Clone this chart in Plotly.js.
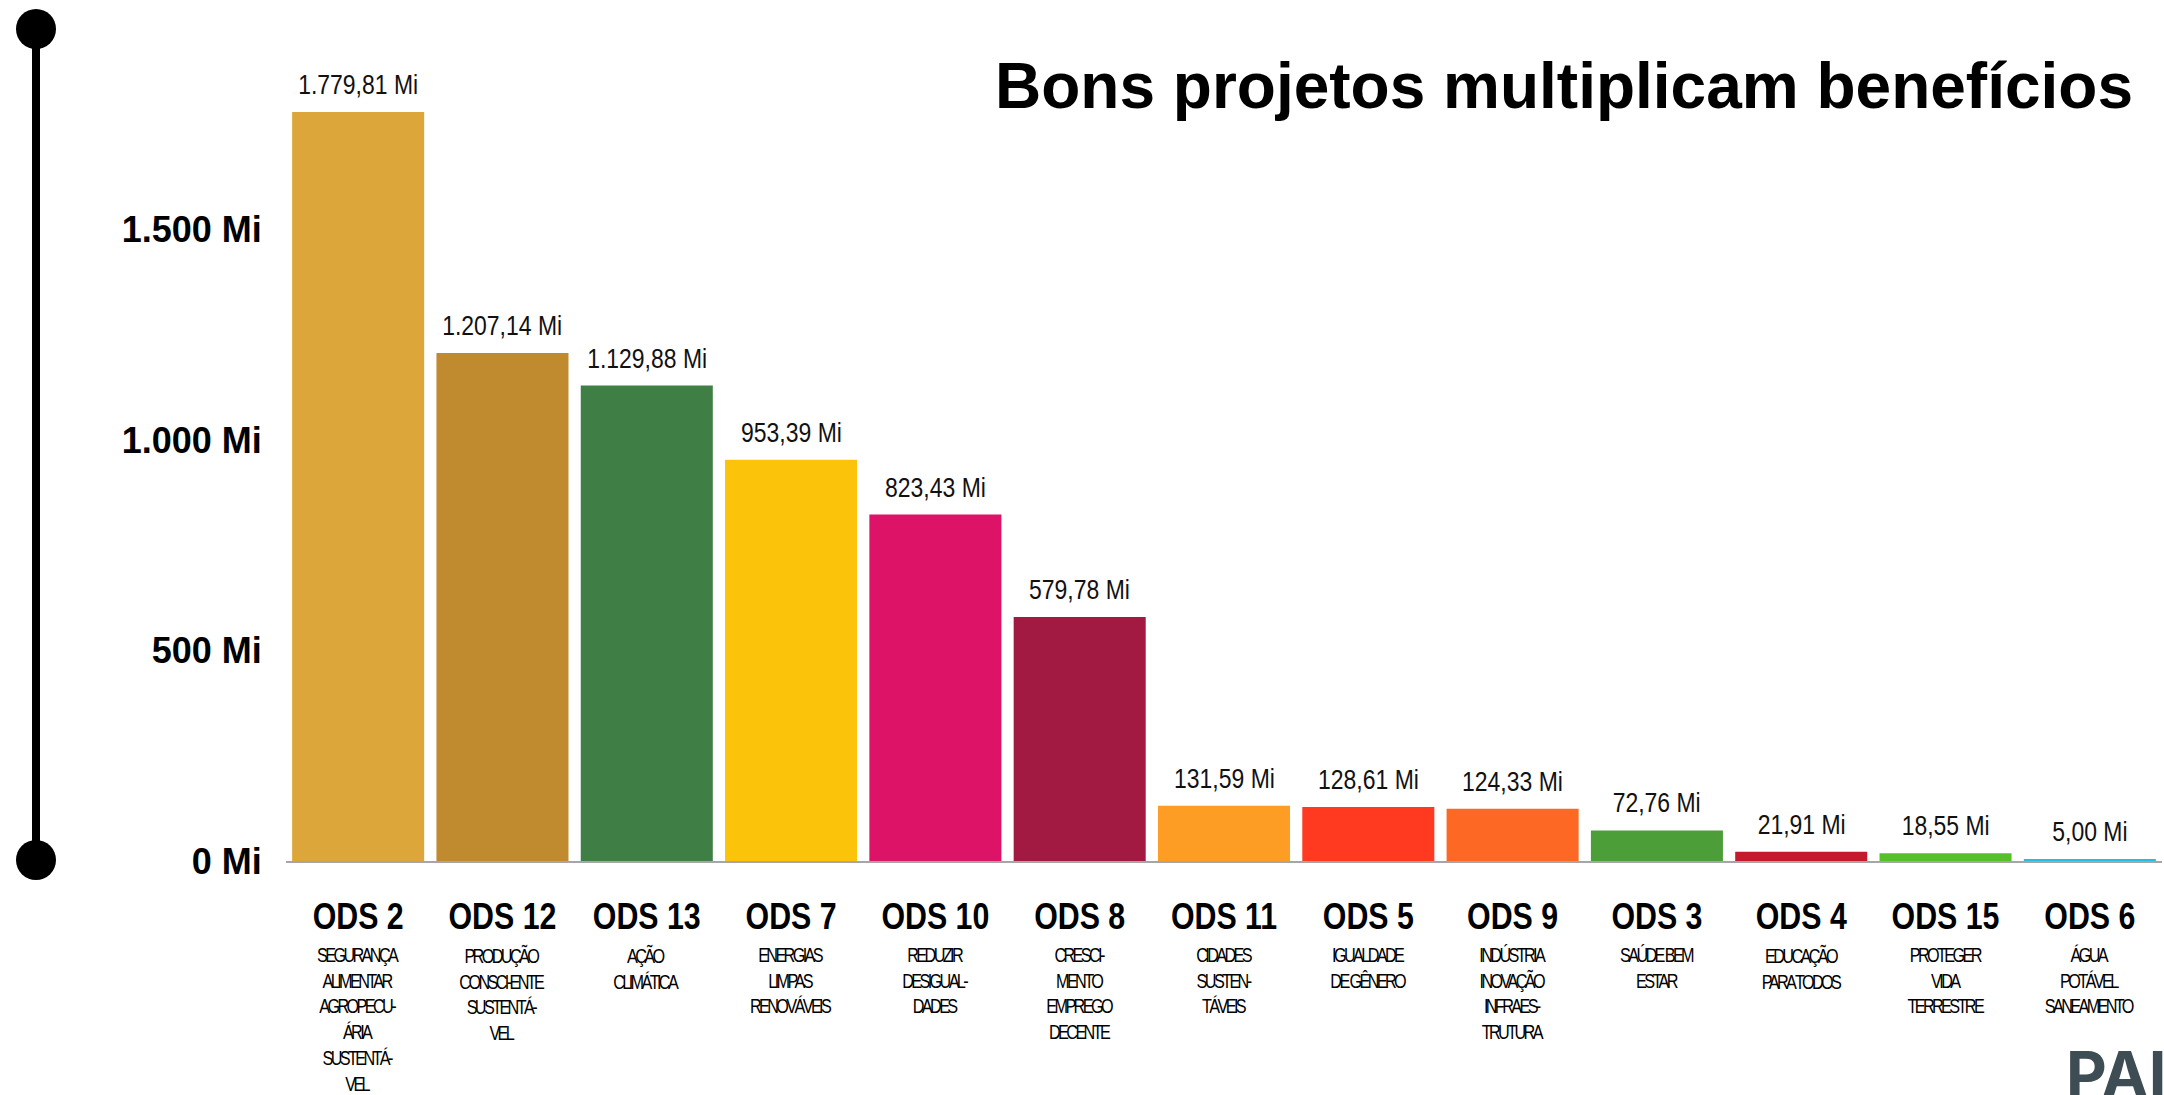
<!DOCTYPE html>
<html>
<head>
<meta charset="utf-8">
<script src="https://cdn.plot.ly/plotly-3.0.1.min.js"></script>
<style>
  html, body { margin: 0; padding: 0; background: #ffffff; }
  #chart { width: 2164px; height: 1095px; }
</style>
</head>
<body>
<div id="chart"></div>
<script>
// ---------- DATA ----------
const categories = ['ODS 2', 'ODS 12', 'ODS 13', 'ODS 7', 'ODS 10', 'ODS 8', 'ODS 11',
                    'ODS 5', 'ODS 9', 'ODS 3', 'ODS 4', 'ODS 15', 'ODS 6'];
const values = [1779.81, 1207.14, 1129.88, 953.39, 823.43, 579.78, 131.59,
                128.61, 124.33, 72.76, 21.91, 18.55, 5.00];
const descriptions = [
  ['SEGURANÇA', 'ALIMENTAR', 'AGROPECU-', 'ÁRIA', 'SUSTENTÁ-', 'VEL'],
  ['PRODUÇÃO', 'CONSCI-ENTE', 'SUSTENTÁ-', 'VEL'],
  ['AÇÃO', 'CLIMÁTICA'],
  ['ENERGIAS', 'LIMPAS', 'RENOVÁVEIS'],
  ['REDUZIR', 'DESIGUAL-', 'DADES'],
  ['CRESCI-', 'MENTO', 'EMPREGO', 'DECENTE'],
  ['CIDADES', 'SUSTEN-', 'TÁVEIS'],
  ['IGUALDADE', 'DE GÊNERO'],
  ['INDÚSTRIA', 'INOVAÇÃO', 'INFRAES-', 'TRUTURA'],
  ['SAÚDE BEM', 'ESTAR'],
  ['EDUCAÇÃO', 'PARA TODOS'],
  ['PROTEGER', 'VIDA', 'TERRESTRE'],
  ['ÁGUA', 'POTÁVEL', 'SANEAMENTO']
];
const colors = ['#DDA63A', '#BF8B2E', '#3F7E44', '#FCC30B', '#DD1367', '#A21942', '#FD9D24',
                '#FF3A21', '#FD6925', '#4C9F38', '#C5192D', '#56C02B', '#26BDE2'];
const yTickVals = [0, 500, 1000, 1500];
const yTickText = ['0 Mi', '500 Mi', '1.000 Mi', '1.500 Mi'];
const titleText = 'Bons projetos multiplicam benefícios';
const logoText = 'PAI';

// ---------- HELPERS ----------
function fmtBR(v) {
  const parts = v.toFixed(2).split('.');
  const intPart = parts[0].replace(/\B(?=(\d{3})+(?!\d))/g, '.');
  return intPart + ',' + parts[1] + ' Mi';
}
const SANS = '"Liberation Sans", Arial, sans-serif';
const NARROW_SCALE = 0.82;   // emulate a narrow face by horizontal compression

// ---------- GEOMETRY ----------
const W = 2164, H = 1095;
const M = { l: 286, r: 2, t: 0, b: 234 };
const plotW = W - M.l - M.r, plotH = H - M.t - M.b;
const pxX = px => (px - M.l) / plotW;
const pxY = py => (H - M.b - py) / plotH;
const yMax = plotH / 0.4208;

// ---------- TRACE ----------
const trace = {
  type: 'bar',
  x: categories,
  y: values,
  marker: { color: colors, line: { width: 0 } },
  hoverinfo: 'x+y'
};

// ---------- ANNOTATIONS ----------
const annotations = [];
// value labels above bars
categories.forEach((c, i) => annotations.push({
  x: c, xref: 'x', y: values[i], yref: 'y',
  xanchor: 'center', yanchor: 'bottom', yshift: 10,
  showarrow: false, text: fmtBR(values[i]),
  font: { family: SANS, size: 28, color: '#111111' }
}));
// descriptions under category names
categories.forEach((c, i) => annotations.push({
  x: c, xref: 'x', y: 0, yref: 'paper',
  xanchor: 'center', yanchor: 'top', yshift: -81,
  showarrow: false, align: 'center',
  text: '<span style="letter-spacing:-3.2px">' + descriptions[i].join('<br>') + '</span>',
  font: { family: SANS, size: 19.8, color: '#000000' }
}));
// partial logo bottom-right
annotations.push({
  x: pxX(2064), xref: 'paper', y: pxY(1034), yref: 'paper',
  xanchor: 'left', yanchor: 'top', showarrow: false,
  text: '<b>' + logoText + '</b>',
  font: { family: 'Inter, "Liberation Sans", sans-serif', size: 63, color: '#3E4C54', weight: 900 }
});

// ---------- SHAPES (decorative left rule with end dots) ----------
const shapes = [
  { type: 'line', xref: 'paper', yref: 'paper', x0: pxX(36), x1: pxX(36), y0: pxY(29), y1: pxY(860),
    line: { color: '#000000', width: 8 } },
  { type: 'circle', xref: 'paper', yref: 'paper', x0: pxX(16), x1: pxX(56), y0: pxY(49), y1: pxY(9),
    fillcolor: '#000000', line: { width: 0 } },
  { type: 'circle', xref: 'paper', yref: 'paper', x0: pxX(16), x1: pxX(56), y0: pxY(880), y1: pxY(840),
    fillcolor: '#000000', line: { width: 0 } }
];

const layout = {
  width: W, height: H,
  margin: M,
  paper_bgcolor: '#ffffff', plot_bgcolor: '#ffffff',
  showlegend: false,
  bargap: 0.085,
  title: {
    text: '<b>' + titleText + '</b>',
    font: { family: SANS, size: 64, color: '#000000' },
    xref: 'container', yref: 'container',
    x: 2133 / W, xanchor: 'right',
    y: 1 - 86 / H, yanchor: 'middle'
  },
  xaxis: {
    type: 'category',
    range: [-0.5, categories.length - 0.5],
    showline: true, linecolor: '#A6A6A6', linewidth: 2,
    showgrid: false, zeroline: false,
    ticks: 'outside', ticklen: 22, tickcolor: 'rgba(0,0,0,0)',
    tickfont: { family: SANS, size: 37, color: '#000000', weight: 'bold' },
    fixedrange: true
  },
  yaxis: {
    range: [0, yMax],
    showline: false, showgrid: false, zeroline: false,
    tickvals: yTickVals, ticktext: yTickText,
    ticks: 'outside', ticklen: 16, tickcolor: 'rgba(0,0,0,0)',
    tickfont: { family: SANS, size: 36, color: '#000000', weight: 'bold' },
    fixedrange: true
  },
  annotations: annotations,
  shapes: shapes
};

function compress(el, s) {
  const bb = el.getBBox();
  const cx = bb.x + bb.width / 2;
  const t = el.getAttribute('transform') || '';
  el.setAttribute('transform', t + ' translate(' + cx + ',0) scale(' + s + ',1) translate(' + (-cx) + ',0)');
}

Plotly.newPlot('chart', [trace], layout, { displayModeBar: false, staticPlot: true }).then(gd => {
  gd.querySelectorAll('.xtick text').forEach(el => compress(el, NARROW_SCALE));
  const annTexts = gd.querySelectorAll('.annotation-text');
  annTexts.forEach((el, idx) => {
    if (idx < 2 * categories.length) compress(el, NARROW_SCALE);
  });
});
</script>
</body>
</html>
